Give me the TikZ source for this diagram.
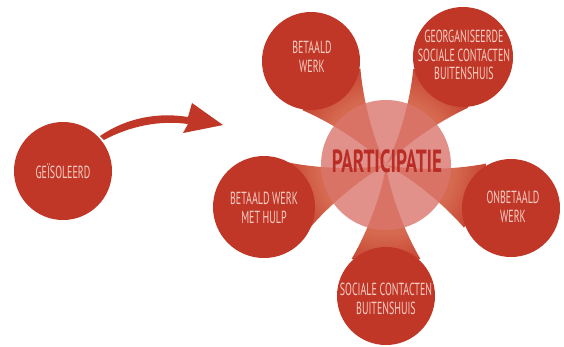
\documentclass[tikz,border=0pt]{standalone}
\usepackage{fontspec}
\setmainfont{PT Sans}
\newfontfamily\lblfont[FakeStretch=0.57]{PT Sans}
\newfontfamily\bigfont[FakeStretch=0.6]{PT Sans}
\usetikzlibrary{calc}
\definecolor{dred}{RGB}{192,55,40}
\definecolor{fcol}{RGB}{214,106,80}
\definecolor{ccol}{RGB}{218,118,108}
\definecolor{txt}{RGB}{245,205,195}
\definecolor{ptxt}{RGB}{185,45,38}
\pgfdeclareradialshading{glow}{\pgfpoint{0bp}{0bp}}{color(0bp)=(fcol); color(17bp)=(fcol); color(28bp)=(dred); color(50bp)=(dred)}
\tikzset{
  bubble/.style={fill=dred, draw=none},
  lbl/.style={text=txt, align=center, font=\lblfont\fontsize{17.5}{18.5}\selectfont},
}
\newcommand\funnel[1]{%
  \begin{scope}
    \clip ($(#1)!49pt!-55:(C)$) .. controls ($(#1)!55pt!-28:(C)$) and ($(#1)!95pt!-3:(C)$) .. (C)
          .. controls ($(#1)!95pt!3:(C)$) and ($(#1)!55pt!28:(C)$) .. ($(#1)!49pt!55:(C)$) -- (#1) -- cycle;
    \shade[shading=glow] (C) circle (100);
  \end{scope}}
\begin{document}
\begin{tikzpicture}[x=1pt,y=-1pt]
\useasboundingbox (0,0) rectangle (564,346);
\coordinate (C) at (386,165);
\coordinate (o1) at (311,61);
\coordinate (o2) at (463,57);
\coordinate (o3) at (511,208);
\coordinate (o4) at (386,296);
\coordinate (o5) at (264,207);
\coordinate (g) at (63,171);
% funnels
\funnel{o1}\funnel{o2}\funnel{o3}\funnel{o4}\funnel{o5}
% central circle
\fill[ccol, fill opacity=0.8] (C) circle (65);
% outer circles
\fill[bubble] (o1) circle (49);
\fill[bubble] (o2) circle (50);
\fill[bubble] (o3) circle (49);
\fill[bubble] (o4) circle (49);
\fill[bubble] (o5) circle (51);
\fill[bubble] (g) circle (49);
% arrow
\fill[dred] (104,140) .. controls (130,126) and (160,120) .. (188,124)
  -- (183,133) -- (223,125) -- (192,103) -- (188,117)
  .. controls (158,112) and (126,118) .. (100,136) -- cycle;
% texts
\node[lbl] (t1) at (312,57) {BETAALD\\WERK};
\node[lbl] (t2) at (464,55) {GEORGANISEERDE\\SOCIALE CONTACTEN\\BUITENSHUIS};
\node[lbl] (t3) at (513,207) {ONBETAALD\\WERK};
\node[lbl] (t4) at (386,299) {SOCIALE CONTACTEN\\BUITENSHUIS};
\node[lbl] (t5) at (264,208) {BETAALD WERK\\MET HULP};
\node[lbl] (t6) at (63,171) {GEÏSOLEERD};
\node[text=ptxt, font=\bigfont\bfseries\fontsize{32}{34}\selectfont] (tc) at (387,161) {PARTICIPATIE};
\end{tikzpicture}
\end{document}
